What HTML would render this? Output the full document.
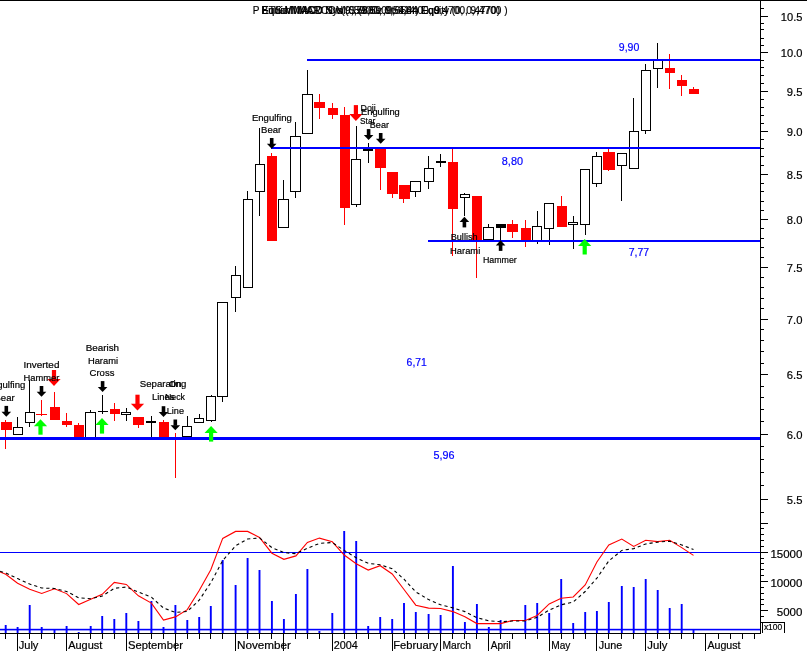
<!DOCTYPE html>
<html><head><meta charset="utf-8"><title>PETS.MI Candlestick Chart</title>
<style>html,body{margin:0;padding:0;background:#fff;overflow:hidden}svg{display:block}text{white-space:pre}</style></head>
<body>
<svg width="807" height="651" viewBox="0 0 807 651" style="display:block">
<rect width="807" height="651" fill="#fff"/>
<rect x="0.00" y="0.00" width="807.00" height="1.00" fill="#000000"/>
<g id="candles">
<rect x="5" y="420" width="1" height="29" fill="#ff0000"/>
<rect x="1" y="422" width="11" height="8" fill="#ff0000"/>
<rect x="17" y="417" width="1" height="10" fill="#000000"/>
<rect x="13.5" y="427.5" width="9" height="7" fill="#fff" stroke="#000" stroke-width="1"/>
<rect x="29" y="380" width="1" height="47" fill="#000000"/>
<rect x="25.5" y="412.5" width="9" height="10" fill="#fff" stroke="#000" stroke-width="1"/>
<rect x="41" y="400" width="1" height="16" fill="#ff0000"/>
<rect x="36" y="414" width="11" height="1" fill="#ff0000"/>
<rect x="54" y="392" width="1" height="28" fill="#ff0000"/>
<rect x="50" y="407" width="10" height="13" fill="#ff0000"/>
<rect x="66" y="413" width="1" height="14" fill="#ff0000"/>
<rect x="62" y="421" width="10" height="4" fill="#ff0000"/>
<rect x="78" y="423" width="1" height="14" fill="#ff0000"/>
<rect x="74" y="425" width="10" height="12" fill="#ff0000"/>
<rect x="90" y="410" width="1" height="2" fill="#000000"/>
<rect x="85.5" y="412.5" width="10" height="25" fill="#fff" stroke="#000" stroke-width="1"/>
<rect x="102" y="395" width="1" height="19" fill="#000000"/>
<rect x="98" y="411" width="10" height="1" fill="#000000"/>
<rect x="114" y="403" width="1" height="18" fill="#ff0000"/>
<rect x="110" y="409" width="10" height="5" fill="#ff0000"/>
<rect x="126" y="408" width="1" height="13" fill="#000000"/>
<rect x="121.5" y="412.5" width="9" height="2" fill="#fff" stroke="#000" stroke-width="1"/>
<rect x="138" y="417" width="1" height="11" fill="#ff0000"/>
<rect x="133" y="417" width="11" height="8" fill="#ff0000"/>
<rect x="151" y="416" width="1" height="21" fill="#000000"/>
<rect x="146" y="421" width="10" height="2" fill="#000000"/>
<rect x="163" y="420" width="1" height="17" fill="#ff0000"/>
<rect x="159" y="422" width="10" height="15" fill="#ff0000"/>
<rect x="175" y="433" width="1" height="45" fill="#ff0000"/>
<rect x="187" y="416" width="1" height="11" fill="#000000"/>
<rect x="182.5" y="426.5" width="9" height="10" fill="#fff" stroke="#000" stroke-width="1"/>
<rect x="199" y="414" width="1" height="4" fill="#000000"/>
<rect x="194.5" y="418.5" width="9" height="4" fill="#fff" stroke="#000" stroke-width="1"/>
<rect x="211" y="395" width="1" height="27" fill="#000000"/>
<rect x="206.5" y="396.5" width="9" height="24" fill="#fff" stroke="#000" stroke-width="1"/>
<rect x="222" y="302" width="1" height="100" fill="#000000"/>
<rect x="217.5" y="302.5" width="10" height="94" fill="#fff" stroke="#000" stroke-width="1"/>
<rect x="235" y="266" width="1" height="46" fill="#000000"/>
<rect x="231.5" y="275.5" width="9" height="22" fill="#fff" stroke="#000" stroke-width="1"/>
<rect x="247" y="191" width="1" height="9" fill="#000000"/>
<rect x="243.5" y="199.5" width="9" height="88" fill="#fff" stroke="#000" stroke-width="1"/>
<rect x="259" y="128" width="1" height="88" fill="#000000"/>
<rect x="255.5" y="164.5" width="9" height="27" fill="#fff" stroke="#000" stroke-width="1"/>
<rect x="271" y="153" width="1" height="88" fill="#ff0000"/>
<rect x="267" y="156" width="10" height="85" fill="#ff0000"/>
<rect x="283" y="180" width="1" height="20" fill="#000000"/>
<rect x="278.5" y="199.5" width="10" height="28" fill="#fff" stroke="#000" stroke-width="1"/>
<rect x="295" y="122" width="1" height="76" fill="#000000"/>
<rect x="290.5" y="136.5" width="10" height="55" fill="#fff" stroke="#000" stroke-width="1"/>
<rect x="307" y="70" width="1" height="64" fill="#000000"/>
<rect x="302.5" y="94.5" width="10" height="39" fill="#fff" stroke="#000" stroke-width="1"/>
<rect x="319" y="94" width="1" height="25" fill="#ff0000"/>
<rect x="314" y="102" width="11" height="6" fill="#ff0000"/>
<rect x="332" y="103" width="1" height="16" fill="#ff0000"/>
<rect x="328" y="108" width="10" height="7" fill="#ff0000"/>
<rect x="344" y="107" width="1" height="118" fill="#ff0000"/>
<rect x="340" y="115" width="10" height="93" fill="#ff0000"/>
<rect x="356" y="126" width="1" height="81" fill="#000000"/>
<rect x="351.5" y="159.5" width="9" height="45" fill="#fff" stroke="#000" stroke-width="1"/>
<rect x="368" y="143" width="1" height="20" fill="#000000"/>
<rect x="363" y="149" width="10" height="2" fill="#000000"/>
<rect x="380" y="149" width="1" height="41" fill="#ff0000"/>
<rect x="375" y="149" width="11" height="19" fill="#ff0000"/>
<rect x="392" y="172" width="1" height="26" fill="#ff0000"/>
<rect x="387" y="172" width="11" height="22" fill="#ff0000"/>
<rect x="403" y="185" width="1" height="18" fill="#ff0000"/>
<rect x="399" y="185" width="11" height="14" fill="#ff0000"/>
<rect x="415" y="181" width="1" height="16" fill="#000000"/>
<rect x="410.5" y="181.5" width="10" height="10" fill="#fff" stroke="#000" stroke-width="1"/>
<rect x="428" y="156" width="1" height="33" fill="#000000"/>
<rect x="424.5" y="168.5" width="9" height="13" fill="#fff" stroke="#000" stroke-width="1"/>
<rect x="440" y="154" width="1" height="13" fill="#000000"/>
<rect x="436" y="161" width="10" height="2" fill="#000000"/>
<rect x="452" y="149" width="1" height="107" fill="#ff0000"/>
<rect x="448" y="162" width="10" height="47" fill="#ff0000"/>
<rect x="464" y="193" width="1" height="23" fill="#000000"/>
<rect x="460.5" y="194.5" width="9" height="3" fill="#fff" stroke="#000" stroke-width="1"/>
<rect x="476" y="196" width="1" height="82" fill="#ff0000"/>
<rect x="472" y="196" width="10" height="44" fill="#ff0000"/>
<rect x="488" y="224" width="1" height="3" fill="#000000"/>
<rect x="483.5" y="227.5" width="10" height="12" fill="#fff" stroke="#000" stroke-width="1"/>
<rect x="500" y="228" width="1" height="12" fill="#000000"/>
<rect x="496" y="224" width="10" height="4" fill="#000000"/>
<rect x="512" y="220" width="1" height="18" fill="#ff0000"/>
<rect x="507" y="224" width="11" height="8" fill="#ff0000"/>
<rect x="525" y="220" width="1" height="27" fill="#ff0000"/>
<rect x="521" y="228" width="10" height="12" fill="#ff0000"/>
<rect x="537" y="211" width="1" height="33" fill="#000000"/>
<rect x="532.5" y="226.5" width="9" height="14" fill="#fff" stroke="#000" stroke-width="1"/>
<rect x="549" y="204" width="1" height="41" fill="#000000"/>
<rect x="544.5" y="203.5" width="9" height="25" fill="#fff" stroke="#000" stroke-width="1"/>
<rect x="561" y="196" width="1" height="31" fill="#ff0000"/>
<rect x="557" y="206" width="10" height="21" fill="#ff0000"/>
<rect x="573" y="216" width="1" height="33" fill="#000000"/>
<rect x="568.5" y="222.5" width="9" height="2" fill="#fff" stroke="#000" stroke-width="1"/>
<rect x="585" y="169" width="1" height="66" fill="#000000"/>
<rect x="580.5" y="169.5" width="9" height="55" fill="#fff" stroke="#000" stroke-width="1"/>
<rect x="596" y="152" width="1" height="35" fill="#000000"/>
<rect x="592.5" y="156.5" width="9" height="27" fill="#fff" stroke="#000" stroke-width="1"/>
<rect x="608" y="149" width="1" height="22" fill="#ff0000"/>
<rect x="603" y="152" width="12" height="18" fill="#ff0000"/>
<rect x="621" y="153" width="1" height="48" fill="#000000"/>
<rect x="617.5" y="153.5" width="9" height="12" fill="#fff" stroke="#000" stroke-width="1"/>
<rect x="633" y="98" width="1" height="33" fill="#000000"/>
<rect x="629.5" y="131.5" width="9" height="37" fill="#fff" stroke="#000" stroke-width="1"/>
<rect x="645" y="64" width="1" height="70" fill="#000000"/>
<rect x="641.5" y="70.5" width="9" height="60" fill="#fff" stroke="#000" stroke-width="1"/>
<rect x="657" y="43" width="1" height="45" fill="#000000"/>
<rect x="653.5" y="59.5" width="9" height="9" fill="#fff" stroke="#000" stroke-width="1"/>
<rect x="669" y="54" width="1" height="35" fill="#ff0000"/>
<rect x="665" y="68" width="10" height="5" fill="#ff0000"/>
<rect x="681" y="75" width="1" height="21" fill="#ff0000"/>
<rect x="677" y="80" width="10" height="6" fill="#ff0000"/>
<rect x="693" y="87" width="1" height="2" fill="#ff0000"/>
<rect x="689" y="89" width="10" height="5" fill="#ff0000"/>
</g>
<g id="levels">
<rect x="307.00" y="59.00" width="453.00" height="2.00" fill="#0000ff"/>
<rect x="271.00" y="147.00" width="489.00" height="2.00" fill="#0000ff"/>
<rect x="428.00" y="240.00" width="332.00" height="2.00" fill="#0000ff"/>
<rect x="0.00" y="437.00" width="760.00" height="3.00" fill="#0000ff"/>
</g>
<g id="arrows">
<rect x="4.50" y="405.90" width="3.60" height="6.20" fill="#000000"/>
<polygon points="1.50,411.70 11.10,411.70 6.30,416.70" fill="#000"/>
<rect x="39.70" y="386.00" width="3.60" height="6.20" fill="#000000"/>
<polygon points="36.70,391.80 46.30,391.80 41.50,396.80" fill="#000"/>
<rect x="100.80" y="381.10" width="3.60" height="6.20" fill="#000000"/>
<polygon points="97.80,386.90 107.40,386.90 102.60,391.90" fill="#000"/>
<rect x="161.70" y="406.20" width="3.60" height="6.20" fill="#000000"/>
<polygon points="158.70,412.00 168.30,412.00 163.50,417.00" fill="#000"/>
<rect x="173.50" y="419.50" width="3.60" height="6.20" fill="#000000"/>
<polygon points="170.50,425.30 180.10,425.30 175.30,430.30" fill="#000"/>
<rect x="269.90" y="138.00" width="3.60" height="6.20" fill="#000000"/>
<polygon points="266.90,143.80 276.50,143.80 271.70,148.80" fill="#000"/>
<rect x="366.80" y="129.10" width="3.60" height="6.20" fill="#000000"/>
<polygon points="363.80,134.90 373.40,134.90 368.60,139.90" fill="#000"/>
<rect x="378.90" y="133.00" width="3.60" height="6.20" fill="#000000"/>
<polygon points="375.90,138.80 385.50,138.80 380.70,143.80" fill="#000"/>
<rect x="462.60" y="221.40" width="3.60" height="6.00" fill="#000000"/>
<polygon points="459.60,222.10 469.20,222.10 464.40,216.80" fill="#000"/>
<rect x="498.80" y="244.90" width="3.60" height="6.00" fill="#000000"/>
<polygon points="495.80,245.60 505.40,245.60 500.60,240.30" fill="#000"/>
<rect x="51.90" y="370.00" width="4.20" height="9.40" fill="#ff0000"/>
<polygon points="47.40,379.00 60.60,379.00 54.00,385.90" fill="#ff0000"/>
<rect x="135.40" y="394.70" width="4.20" height="9.40" fill="#ff0000"/>
<polygon points="130.90,403.70 144.10,403.70 137.50,410.60" fill="#ff0000"/>
<rect x="353.80" y="105.10" width="4.20" height="9.40" fill="#ff0000"/>
<polygon points="349.30,114.10 362.50,114.10 355.90,121.00" fill="#ff0000"/>
<rect x="38.40" y="425.70" width="4.20" height="9.00" fill="#00ff00"/>
<polygon points="33.90,426.20 47.10,426.20 40.50,419.20" fill="#00ff00"/>
<rect x="99.90" y="424.60" width="4.20" height="9.00" fill="#00ff00"/>
<polygon points="95.40,425.10 108.60,425.10 102.00,418.10" fill="#00ff00"/>
<rect x="209.00" y="432.60" width="4.20" height="9.00" fill="#00ff00"/>
<polygon points="204.50,433.10 217.70,433.10 211.10,426.10" fill="#00ff00"/>
<rect x="582.60" y="245.50" width="4.20" height="9.00" fill="#00ff00"/>
<polygon points="578.10,246.00 591.30,246.00 584.70,239.00" fill="#00ff00"/>
</g>
<g id="labels" font-family="'Liberation Sans', Arial, sans-serif">
<text x="-14.50" y="388.20" font-size="9.5" fill="#000" stroke="#000" stroke-width="0.2" textLength="39.80" lengthAdjust="spacingAndGlyphs">Engulfing</text>
<text x="-5.50" y="400.50" font-size="9.5" fill="#000" stroke="#000" stroke-width="0.2" textLength="20.10" lengthAdjust="spacingAndGlyphs">Bear</text>
<text x="23.60" y="367.80" font-size="9.5" fill="#000" stroke="#000" stroke-width="0.2" textLength="35.80" lengthAdjust="spacingAndGlyphs">Inverted</text>
<text x="23.60" y="380.50" font-size="9.5" fill="#000" stroke="#000" stroke-width="0.2" textLength="35.80" lengthAdjust="spacingAndGlyphs">Hammer</text>
<text x="85.70" y="350.60" font-size="9.5" fill="#000" stroke="#000" stroke-width="0.2" textLength="33.40" lengthAdjust="spacingAndGlyphs">Bearish</text>
<text x="87.90" y="363.60" font-size="9.5" fill="#000" stroke="#000" stroke-width="0.2" textLength="30.10" lengthAdjust="spacingAndGlyphs">Harami</text>
<text x="89.60" y="375.50" font-size="9.5" fill="#000" stroke="#000" stroke-width="0.2" textLength="24.80" lengthAdjust="spacingAndGlyphs">Cross</text>
<text x="139.80" y="387.40" font-size="9.5" fill="#000" stroke="#000" stroke-width="0.2" textLength="46.50" lengthAdjust="spacingAndGlyphs">Separating</text>
<text x="152.00" y="400.40" font-size="9.5" fill="#000" stroke="#000" stroke-width="0.2" textLength="22.60" lengthAdjust="spacingAndGlyphs">Lines</text>
<text x="169.00" y="387.40" font-size="9.5" fill="#000" stroke="#000" stroke-width="0.2" textLength="12.60" lengthAdjust="spacingAndGlyphs">On</text>
<text x="165.00" y="400.40" font-size="9.5" fill="#000" stroke="#000" stroke-width="0.2" textLength="20.00" lengthAdjust="spacingAndGlyphs">Neck</text>
<text x="166.80" y="413.60" font-size="9.5" fill="#000" stroke="#000" stroke-width="0.2" textLength="17.20" lengthAdjust="spacingAndGlyphs">Line</text>
<text x="251.90" y="120.70" font-size="9.5" fill="#000" stroke="#000" stroke-width="0.2" textLength="39.90" lengthAdjust="spacingAndGlyphs">Engulfing</text>
<text x="261.10" y="132.50" font-size="9.5" fill="#000" stroke="#000" stroke-width="0.2" textLength="20.10" lengthAdjust="spacingAndGlyphs">Bear</text>
<text x="360.60" y="110.80" font-size="9.5" fill="#000" stroke="#000" stroke-width="0.2" textLength="15.20" lengthAdjust="spacingAndGlyphs">Doji</text>
<text x="360.10" y="123.80" font-size="9.5" fill="#000" stroke="#000" stroke-width="0.2" textLength="15.20" lengthAdjust="spacingAndGlyphs">Star</text>
<text x="361.00" y="115.00" font-size="9.5" fill="#000" stroke="#000" stroke-width="0.2" textLength="38.80" lengthAdjust="spacingAndGlyphs">Engulfing</text>
<text x="369.80" y="127.70" font-size="9.5" fill="#000" stroke="#000" stroke-width="0.2" textLength="19.20" lengthAdjust="spacingAndGlyphs">Bear</text>
<text x="450.70" y="240.30" font-size="9.5" fill="#000" stroke="#000" stroke-width="0.2" textLength="26.90" lengthAdjust="spacingAndGlyphs">Bullish</text>
<text x="450.00" y="253.60" font-size="9.5" fill="#000" stroke="#000" stroke-width="0.2" textLength="30.30" lengthAdjust="spacingAndGlyphs">Harami</text>
<text x="482.90" y="262.60" font-size="9.5" fill="#000" stroke="#000" stroke-width="0.2" textLength="33.90" lengthAdjust="spacingAndGlyphs">Hammer</text>
<text x="618.80" y="50.80" font-size="11" fill="#0000ff" stroke="#0000ff" stroke-width="0.2" textLength="20.50" lengthAdjust="spacingAndGlyphs">9,90</text>
<text x="501.80" y="164.70" font-size="11" fill="#0000ff" stroke="#0000ff" stroke-width="0.2" textLength="21.20" lengthAdjust="spacingAndGlyphs">8,80</text>
<text x="628.70" y="256.00" font-size="11" fill="#0000ff" stroke="#0000ff" stroke-width="0.2" textLength="20.50" lengthAdjust="spacingAndGlyphs">7,77</text>
<text x="406.60" y="366.00" font-size="11" fill="#0000ff" stroke="#0000ff" stroke-width="0.2" textLength="20.30" lengthAdjust="spacingAndGlyphs">6,71</text>
<text x="433.50" y="458.80" font-size="11" fill="#0000ff" stroke="#0000ff" stroke-width="0.2" textLength="21.00" lengthAdjust="spacingAndGlyphs">5,96</text>
<text x="252.80" y="14.00" font-size="11" fill="#000" stroke="#000" stroke-width="0.2" textLength="254.70" lengthAdjust="spacingAndGlyphs">P ETS.MI MARCONI S (9,5900, 9,6400, 9,4700, 9,4700 )</text>
<text x="261.50" y="14.00" font-size="11" fill="#000" stroke="#000" stroke-width="0.2" textLength="238.50" lengthAdjust="spacingAndGlyphs">Bullish MACD Sys (0,5860, 0,5414) Equity (0, 0,4770)</text>
<text x="261.50" y="14.00" font-size="11" fill="#000" stroke="#000" stroke-width="0.2" textLength="178.50" lengthAdjust="spacingAndGlyphs">Equis/MACD N v(9,5900z,9t654n Eq9</text>
</g>
<g id="vol">
<rect x="4.75" y="625.00" width="1.90" height="8.00" fill="#0000ff"/>
<rect x="16.65" y="627.00" width="1.90" height="6.00" fill="#0000ff"/>
<rect x="28.75" y="605.00" width="1.90" height="28.00" fill="#0000ff"/>
<rect x="40.75" y="627.00" width="1.90" height="6.00" fill="#0000ff"/>
<rect x="53.55" y="629.00" width="1.90" height="4.00" fill="#0000ff"/>
<rect x="65.65" y="626.00" width="1.90" height="7.00" fill="#0000ff"/>
<rect x="77.75" y="632.00" width="1.90" height="1.00" fill="#0000ff"/>
<rect x="89.75" y="626.00" width="1.90" height="7.00" fill="#0000ff"/>
<rect x="101.25" y="616.00" width="1.90" height="17.00" fill="#0000ff"/>
<rect x="113.35" y="619.00" width="1.90" height="14.00" fill="#0000ff"/>
<rect x="125.35" y="613.00" width="1.90" height="20.00" fill="#0000ff"/>
<rect x="137.45" y="621.00" width="1.90" height="12.00" fill="#0000ff"/>
<rect x="150.45" y="601.00" width="1.90" height="32.00" fill="#0000ff"/>
<rect x="162.55" y="627.00" width="1.90" height="6.00" fill="#0000ff"/>
<rect x="174.45" y="605.00" width="1.90" height="28.00" fill="#0000ff"/>
<rect x="186.35" y="620.00" width="1.90" height="13.00" fill="#0000ff"/>
<rect x="198.25" y="617.00" width="1.90" height="16.00" fill="#0000ff"/>
<rect x="209.85" y="606.00" width="1.90" height="27.00" fill="#0000ff"/>
<rect x="221.75" y="560.00" width="1.90" height="73.00" fill="#0000ff"/>
<rect x="234.65" y="585.00" width="1.90" height="48.00" fill="#0000ff"/>
<rect x="246.65" y="558.00" width="1.90" height="75.00" fill="#0000ff"/>
<rect x="258.55" y="570.00" width="1.90" height="63.00" fill="#0000ff"/>
<rect x="270.95" y="601.00" width="1.90" height="32.00" fill="#0000ff"/>
<rect x="282.95" y="619.00" width="1.90" height="14.00" fill="#0000ff"/>
<rect x="294.95" y="594.00" width="1.90" height="39.00" fill="#0000ff"/>
<rect x="306.45" y="569.00" width="1.90" height="64.00" fill="#0000ff"/>
<rect x="318.45" y="631.00" width="1.90" height="2.00" fill="#0000ff"/>
<rect x="331.35" y="613.00" width="1.90" height="20.00" fill="#0000ff"/>
<rect x="343.25" y="531.00" width="1.90" height="102.00" fill="#0000ff"/>
<rect x="355.25" y="541.00" width="1.90" height="92.00" fill="#0000ff"/>
<rect x="367.25" y="626.00" width="1.90" height="7.00" fill="#0000ff"/>
<rect x="379.25" y="617.00" width="1.90" height="16.00" fill="#0000ff"/>
<rect x="391.25" y="619.00" width="1.90" height="14.00" fill="#0000ff"/>
<rect x="403.05" y="603.00" width="1.90" height="30.00" fill="#0000ff"/>
<rect x="414.85" y="612.00" width="1.90" height="21.00" fill="#0000ff"/>
<rect x="427.65" y="614.00" width="1.90" height="19.00" fill="#0000ff"/>
<rect x="439.65" y="615.00" width="1.90" height="18.00" fill="#0000ff"/>
<rect x="451.95" y="566.00" width="1.90" height="67.00" fill="#0000ff"/>
<rect x="463.95" y="622.00" width="1.90" height="11.00" fill="#0000ff"/>
<rect x="475.95" y="604.00" width="1.90" height="29.00" fill="#0000ff"/>
<rect x="487.85" y="627.00" width="1.90" height="6.00" fill="#0000ff"/>
<rect x="499.65" y="620.00" width="1.90" height="13.00" fill="#0000ff"/>
<rect x="524.35" y="605.00" width="1.90" height="28.00" fill="#0000ff"/>
<rect x="536.25" y="603.00" width="1.90" height="30.00" fill="#0000ff"/>
<rect x="548.25" y="613.00" width="1.90" height="20.00" fill="#0000ff"/>
<rect x="560.25" y="579.00" width="1.90" height="54.00" fill="#0000ff"/>
<rect x="572.25" y="623.00" width="1.90" height="10.00" fill="#0000ff"/>
<rect x="584.25" y="612.00" width="1.90" height="21.00" fill="#0000ff"/>
<rect x="595.95" y="611.00" width="1.90" height="22.00" fill="#0000ff"/>
<rect x="607.85" y="602.00" width="1.90" height="31.00" fill="#0000ff"/>
<rect x="620.85" y="586.00" width="1.90" height="47.00" fill="#0000ff"/>
<rect x="632.75" y="587.00" width="1.90" height="46.00" fill="#0000ff"/>
<rect x="644.75" y="579.00" width="1.90" height="54.00" fill="#0000ff"/>
<rect x="656.75" y="590.00" width="1.90" height="43.00" fill="#0000ff"/>
<rect x="668.75" y="608.00" width="1.90" height="25.00" fill="#0000ff"/>
<rect x="680.75" y="604.00" width="1.90" height="29.00" fill="#0000ff"/>
<rect x="692.55" y="630.00" width="1.90" height="3.00" fill="#0000ff"/>
</g>
<rect x="0.00" y="552.00" width="760.00" height="1.00" fill="#0000ff"/>
<rect x="0.00" y="628.80" width="760.00" height="1.60" fill="#0000ff"/>
<polyline fill="none" stroke="#ff0000" stroke-width="1.1" points="0.0,572.0 5.7,574.2 17.6,583.2 29.7,589.2 41.7,593.4 54.5,588.8 66.6,593.6 78.7,604.5 90.7,599.3 102.2,594.3 114.3,582.4 126.3,584.4 138.4,595.8 151.4,603.1 163.5,620.1 175.4,616.9 187.3,609.6 199.2,590.5 210.8,569.8 222.7,538.4 235.6,531.4 247.6,531.4 259.5,537.5 271.9,553.2 283.9,559.3 295.9,555.9 307.4,542.5 319.4,538.1 332.3,541.8 344.2,555.0 356.2,563.7 368.2,570.1 380.2,565.7 392.2,574.0 404.0,589.5 415.8,605.2 428.6,608.1 440.6,608.5 452.9,611.6 464.9,616.8 476.9,623.6 488.8,623.6 500.6,623.6 512.5,620.5 525.3,620.5 537.2,615.5 549.2,603.9 561.2,598.3 573.2,597.0 585.2,584.9 596.9,562.0 608.8,544.9 621.8,539.0 633.7,546.4 645.7,540.3 657.7,541.6 669.7,540.3 681.7,547.6 693.5,555.4"/>
<polyline fill="none" stroke="#000" stroke-width="1.1" stroke-dasharray="3.2,3" points="0.0,571.2 5.7,573.0 17.6,578.6 29.7,584.1 41.7,588.0 54.5,588.5 66.6,591.4 78.7,597.8 90.7,598.7 102.2,596.1 114.3,588.3 126.3,587.0 138.4,592.0 151.4,597.2 163.5,608.0 175.4,612.4 187.3,611.4 199.2,600.2 210.8,582.7 222.7,560.6 235.6,545.8 247.6,539.0 259.5,537.9 271.9,547.6 283.9,552.6 295.9,553.7 307.4,548.3 319.4,543.4 332.3,542.5 344.2,550.4 356.2,557.8 368.2,563.3 380.2,564.8 392.2,568.8 404.0,579.2 415.8,591.9 428.6,599.6 440.6,604.8 452.9,607.9 464.9,611.6 476.9,617.7 488.8,620.8 500.6,621.8 512.5,621.0 525.3,621.0 537.2,617.3 549.2,610.0 561.2,604.8 573.2,602.0 585.2,591.5 596.9,578.1 608.8,560.9 621.8,550.4 633.7,548.6 645.7,544.0 657.7,542.1 669.7,541.2 681.7,544.9 693.5,549.5"/>
<g id="axes">
<rect x="760.00" y="0.00" width="1.00" height="634.00" fill="#000000"/>
<rect x="0.00" y="633.00" width="761.00" height="1.00" fill="#000000"/>
<rect x="5" y="633" width="1" height="6" fill="#000000"/>
<rect x="17" y="633" width="1" height="18" fill="#000000"/>
<rect x="29" y="633" width="1" height="6" fill="#000000"/>
<rect x="41" y="633" width="1" height="6" fill="#000000"/>
<rect x="54" y="633" width="1" height="6" fill="#000000"/>
<rect x="66" y="633" width="1" height="18" fill="#000000"/>
<rect x="78" y="633" width="1" height="6" fill="#000000"/>
<rect x="90" y="633" width="1" height="6" fill="#000000"/>
<rect x="102" y="633" width="1" height="6" fill="#000000"/>
<rect x="114" y="633" width="1" height="6" fill="#000000"/>
<rect x="126" y="633" width="1" height="18" fill="#000000"/>
<rect x="138" y="633" width="1" height="6" fill="#000000"/>
<rect x="151" y="633" width="1" height="6" fill="#000000"/>
<rect x="163" y="633" width="1" height="6" fill="#000000"/>
<rect x="175" y="633" width="1" height="18" fill="#000000"/>
<rect x="187" y="633" width="1" height="6" fill="#000000"/>
<rect x="199" y="633" width="1" height="6" fill="#000000"/>
<rect x="210" y="633" width="1" height="6" fill="#000000"/>
<rect x="222" y="633" width="1" height="6" fill="#000000"/>
<rect x="235" y="633" width="1" height="18" fill="#000000"/>
<rect x="247" y="633" width="1" height="6" fill="#000000"/>
<rect x="259" y="633" width="1" height="6" fill="#000000"/>
<rect x="271" y="633" width="1" height="6" fill="#000000"/>
<rect x="283" y="633" width="1" height="18" fill="#000000"/>
<rect x="295" y="633" width="1" height="6" fill="#000000"/>
<rect x="307" y="633" width="1" height="6" fill="#000000"/>
<rect x="319" y="633" width="1" height="6" fill="#000000"/>
<rect x="332" y="633" width="1" height="18" fill="#000000"/>
<rect x="344" y="633" width="1" height="6" fill="#000000"/>
<rect x="356" y="633" width="1" height="6" fill="#000000"/>
<rect x="368" y="633" width="1" height="6" fill="#000000"/>
<rect x="380" y="633" width="1" height="6" fill="#000000"/>
<rect x="392" y="633" width="1" height="18" fill="#000000"/>
<rect x="404" y="633" width="1" height="6" fill="#000000"/>
<rect x="415" y="633" width="1" height="6" fill="#000000"/>
<rect x="428" y="633" width="1" height="6" fill="#000000"/>
<rect x="440" y="633" width="1" height="18" fill="#000000"/>
<rect x="452" y="633" width="1" height="6" fill="#000000"/>
<rect x="464" y="633" width="1" height="6" fill="#000000"/>
<rect x="476" y="633" width="1" height="6" fill="#000000"/>
<rect x="488" y="633" width="1" height="18" fill="#000000"/>
<rect x="500" y="633" width="1" height="6" fill="#000000"/>
<rect x="512" y="633" width="1" height="6" fill="#000000"/>
<rect x="525" y="633" width="1" height="6" fill="#000000"/>
<rect x="537" y="633" width="1" height="6" fill="#000000"/>
<rect x="549" y="633" width="1" height="18" fill="#000000"/>
<rect x="561" y="633" width="1" height="6" fill="#000000"/>
<rect x="573" y="633" width="1" height="6" fill="#000000"/>
<rect x="585" y="633" width="1" height="6" fill="#000000"/>
<rect x="596" y="633" width="1" height="18" fill="#000000"/>
<rect x="608" y="633" width="1" height="6" fill="#000000"/>
<rect x="621" y="633" width="1" height="6" fill="#000000"/>
<rect x="633" y="633" width="1" height="6" fill="#000000"/>
<rect x="645" y="633" width="1" height="18" fill="#000000"/>
<rect x="657" y="633" width="1" height="6" fill="#000000"/>
<rect x="669" y="633" width="1" height="6" fill="#000000"/>
<rect x="681" y="633" width="1" height="6" fill="#000000"/>
<rect x="693" y="633" width="1" height="6" fill="#000000"/>
<rect x="705" y="633" width="1" height="18" fill="#000000"/>
<rect x="718" y="633" width="1" height="6" fill="#000000"/>
<rect x="730" y="633" width="1" height="6" fill="#000000"/>
<rect x="742" y="633" width="1" height="6" fill="#000000"/>
<rect x="754" y="633" width="1" height="6" fill="#000000"/>
<rect x="760" y="512" width="4" height="1" fill="#000000"/>
<rect x="760" y="499" width="8" height="1" fill="#000000"/>
<rect x="760" y="485" width="4" height="1" fill="#000000"/>
<rect x="760" y="472" width="4" height="1" fill="#000000"/>
<rect x="760" y="459" width="4" height="1" fill="#000000"/>
<rect x="760" y="446" width="4" height="1" fill="#000000"/>
<rect x="760" y="434" width="8" height="1" fill="#000000"/>
<rect x="760" y="421" width="4" height="1" fill="#000000"/>
<rect x="760" y="409" width="4" height="1" fill="#000000"/>
<rect x="760" y="397" width="4" height="1" fill="#000000"/>
<rect x="760" y="386" width="4" height="1" fill="#000000"/>
<rect x="760" y="374" width="8" height="1" fill="#000000"/>
<rect x="760" y="363" width="4" height="1" fill="#000000"/>
<rect x="760" y="351" width="4" height="1" fill="#000000"/>
<rect x="760" y="340" width="4" height="1" fill="#000000"/>
<rect x="760" y="329" width="4" height="1" fill="#000000"/>
<rect x="760" y="319" width="8" height="1" fill="#000000"/>
<rect x="760" y="308" width="4" height="1" fill="#000000"/>
<rect x="760" y="298" width="4" height="1" fill="#000000"/>
<rect x="760" y="287" width="4" height="1" fill="#000000"/>
<rect x="760" y="277" width="4" height="1" fill="#000000"/>
<rect x="760" y="267" width="8" height="1" fill="#000000"/>
<rect x="760" y="257" width="4" height="1" fill="#000000"/>
<rect x="760" y="247" width="4" height="1" fill="#000000"/>
<rect x="760" y="238" width="4" height="1" fill="#000000"/>
<rect x="760" y="228" width="4" height="1" fill="#000000"/>
<rect x="760" y="219" width="8" height="1" fill="#000000"/>
<rect x="760" y="210" width="4" height="1" fill="#000000"/>
<rect x="760" y="201" width="4" height="1" fill="#000000"/>
<rect x="760" y="191" width="4" height="1" fill="#000000"/>
<rect x="760" y="183" width="4" height="1" fill="#000000"/>
<rect x="760" y="174" width="8" height="1" fill="#000000"/>
<rect x="760" y="165" width="4" height="1" fill="#000000"/>
<rect x="760" y="156" width="4" height="1" fill="#000000"/>
<rect x="760" y="148" width="4" height="1" fill="#000000"/>
<rect x="760" y="139" width="4" height="1" fill="#000000"/>
<rect x="760" y="131" width="8" height="1" fill="#000000"/>
<rect x="760" y="123" width="4" height="1" fill="#000000"/>
<rect x="760" y="115" width="4" height="1" fill="#000000"/>
<rect x="760" y="107" width="4" height="1" fill="#000000"/>
<rect x="760" y="99" width="4" height="1" fill="#000000"/>
<rect x="760" y="91" width="8" height="1" fill="#000000"/>
<rect x="760" y="83" width="4" height="1" fill="#000000"/>
<rect x="760" y="75" width="4" height="1" fill="#000000"/>
<rect x="760" y="67" width="4" height="1" fill="#000000"/>
<rect x="760" y="60" width="4" height="1" fill="#000000"/>
<rect x="760" y="52" width="8" height="1" fill="#000000"/>
<rect x="760" y="45" width="4" height="1" fill="#000000"/>
<rect x="760" y="38" width="4" height="1" fill="#000000"/>
<rect x="760" y="29" width="4" height="1" fill="#000000"/>
<rect x="760" y="23" width="4" height="1" fill="#000000"/>
<rect x="760" y="16" width="8" height="1" fill="#000000"/>
<rect x="760" y="8" width="4" height="1" fill="#000000"/>
<rect x="760" y="622" width="4" height="1" fill="#000000"/>
<rect x="760" y="616" width="4" height="1" fill="#000000"/>
<rect x="760" y="610" width="8" height="1" fill="#000000"/>
<rect x="760" y="604" width="4" height="1" fill="#000000"/>
<rect x="760" y="599" width="4" height="1" fill="#000000"/>
<rect x="760" y="593" width="4" height="1" fill="#000000"/>
<rect x="760" y="587" width="4" height="1" fill="#000000"/>
<rect x="760" y="581" width="8" height="1" fill="#000000"/>
<rect x="760" y="575" width="4" height="1" fill="#000000"/>
<rect x="760" y="569" width="4" height="1" fill="#000000"/>
<rect x="760" y="563" width="4" height="1" fill="#000000"/>
<rect x="760" y="558" width="4" height="1" fill="#000000"/>
<rect x="760" y="552" width="8" height="1" fill="#000000"/>
<rect x="760" y="546" width="4" height="1" fill="#000000"/>
<rect x="760" y="540" width="4" height="1" fill="#000000"/>
<rect x="760" y="534" width="4" height="1" fill="#000000"/>
<rect x="760" y="528" width="4" height="1" fill="#000000"/>
<rect x="760" y="523" width="8" height="1" fill="#000000"/>
<rect x="762.00" y="622.00" width="23.00" height="1.00" fill="#000000"/>
<rect x="762.00" y="622.00" width="1.00" height="11.00" fill="#000000"/>
<rect x="784.00" y="622.00" width="1.00" height="11.00" fill="#000000"/>
</g>
<g id="axlabels" font-family="'Liberation Sans', Arial, sans-serif" font-size="11">
<text x="780.80" y="21.00" font-size="11" fill="#000" stroke="#000" stroke-width="0.2" textLength="21.60" lengthAdjust="spacingAndGlyphs">10.5</text>
<text x="780.80" y="57.43" font-size="11" fill="#000" stroke="#000" stroke-width="0.2" textLength="21.60" lengthAdjust="spacingAndGlyphs">10.0</text>
<text x="786.80" y="95.73" font-size="11" fill="#000" stroke="#000" stroke-width="0.2" textLength="15.60" lengthAdjust="spacingAndGlyphs">9.5</text>
<text x="786.80" y="136.10" font-size="11" fill="#000" stroke="#000" stroke-width="0.2" textLength="15.60" lengthAdjust="spacingAndGlyphs">9.0</text>
<text x="786.80" y="178.78" font-size="11" fill="#000" stroke="#000" stroke-width="0.2" textLength="15.60" lengthAdjust="spacingAndGlyphs">8.5</text>
<text x="786.80" y="224.05" font-size="11" fill="#000" stroke="#000" stroke-width="0.2" textLength="15.60" lengthAdjust="spacingAndGlyphs">8.0</text>
<text x="786.80" y="272.24" font-size="11" fill="#000" stroke="#000" stroke-width="0.2" textLength="15.60" lengthAdjust="spacingAndGlyphs">7.5</text>
<text x="786.80" y="323.76" font-size="11" fill="#000" stroke="#000" stroke-width="0.2" textLength="15.60" lengthAdjust="spacingAndGlyphs">7.0</text>
<text x="786.80" y="379.10" font-size="11" fill="#000" stroke="#000" stroke-width="0.2" textLength="15.60" lengthAdjust="spacingAndGlyphs">6.5</text>
<text x="786.80" y="438.87" font-size="11" fill="#000" stroke="#000" stroke-width="0.2" textLength="15.60" lengthAdjust="spacingAndGlyphs">6.0</text>
<text x="786.80" y="503.84" font-size="11" fill="#000" stroke="#000" stroke-width="0.2" textLength="15.60" lengthAdjust="spacingAndGlyphs">5.5</text>
<text x="770.40" y="557.50" font-size="11" fill="#000" stroke="#000" stroke-width="0.2" textLength="32.00" lengthAdjust="spacingAndGlyphs">15000</text>
<text x="770.40" y="586.70" font-size="11" fill="#000" stroke="#000" stroke-width="0.2" textLength="32.00" lengthAdjust="spacingAndGlyphs">10000</text>
<text x="776.80" y="615.90" font-size="11" fill="#000" stroke="#000" stroke-width="0.2" textLength="25.60" lengthAdjust="spacingAndGlyphs">5000</text>
<text x="763.90" y="630.00" font-size="8.8" fill="#000" stroke="#000" stroke-width="0.2" textLength="18.30" lengthAdjust="spacingAndGlyphs">x100</text>
<text x="18.70" y="648.80" font-size="11" fill="#000" stroke="#000" stroke-width="0.2" textLength="19.70" lengthAdjust="spacingAndGlyphs">July</text>
<text x="68.20" y="648.80" font-size="11" fill="#000" stroke="#000" stroke-width="0.2" textLength="34.10" lengthAdjust="spacingAndGlyphs">August</text>
<text x="127.90" y="648.80" font-size="11" fill="#000" stroke="#000" stroke-width="0.2" textLength="55.00" lengthAdjust="spacingAndGlyphs">September</text>
<text x="237.00" y="648.80" font-size="11" fill="#000" stroke="#000" stroke-width="0.2" textLength="54.00" lengthAdjust="spacingAndGlyphs">November</text>
<text x="333.70" y="648.80" font-size="11" fill="#000" stroke="#000" stroke-width="0.2" textLength="24.10" lengthAdjust="spacingAndGlyphs">2004</text>
<text x="393.30" y="648.80" font-size="11" fill="#000" stroke="#000" stroke-width="0.2" textLength="44.70" lengthAdjust="spacingAndGlyphs">February</text>
<text x="442.40" y="648.80" font-size="11" fill="#000" stroke="#000" stroke-width="0.2" textLength="28.50" lengthAdjust="spacingAndGlyphs">March</text>
<text x="490.70" y="648.80" font-size="11" fill="#000" stroke="#000" stroke-width="0.2" textLength="20.10" lengthAdjust="spacingAndGlyphs">April</text>
<text x="551.30" y="648.80" font-size="11" fill="#000" stroke="#000" stroke-width="0.2" textLength="19.10" lengthAdjust="spacingAndGlyphs">May</text>
<text x="598.80" y="648.80" font-size="11" fill="#000" stroke="#000" stroke-width="0.2" textLength="23.40" lengthAdjust="spacingAndGlyphs">June</text>
<text x="647.30" y="648.80" font-size="11" fill="#000" stroke="#000" stroke-width="0.2" textLength="20.10" lengthAdjust="spacingAndGlyphs">July</text>
<text x="707.40" y="648.80" font-size="11" fill="#000" stroke="#000" stroke-width="0.2" textLength="33.10" lengthAdjust="spacingAndGlyphs">August</text>
</g>
</svg>
</body></html>
